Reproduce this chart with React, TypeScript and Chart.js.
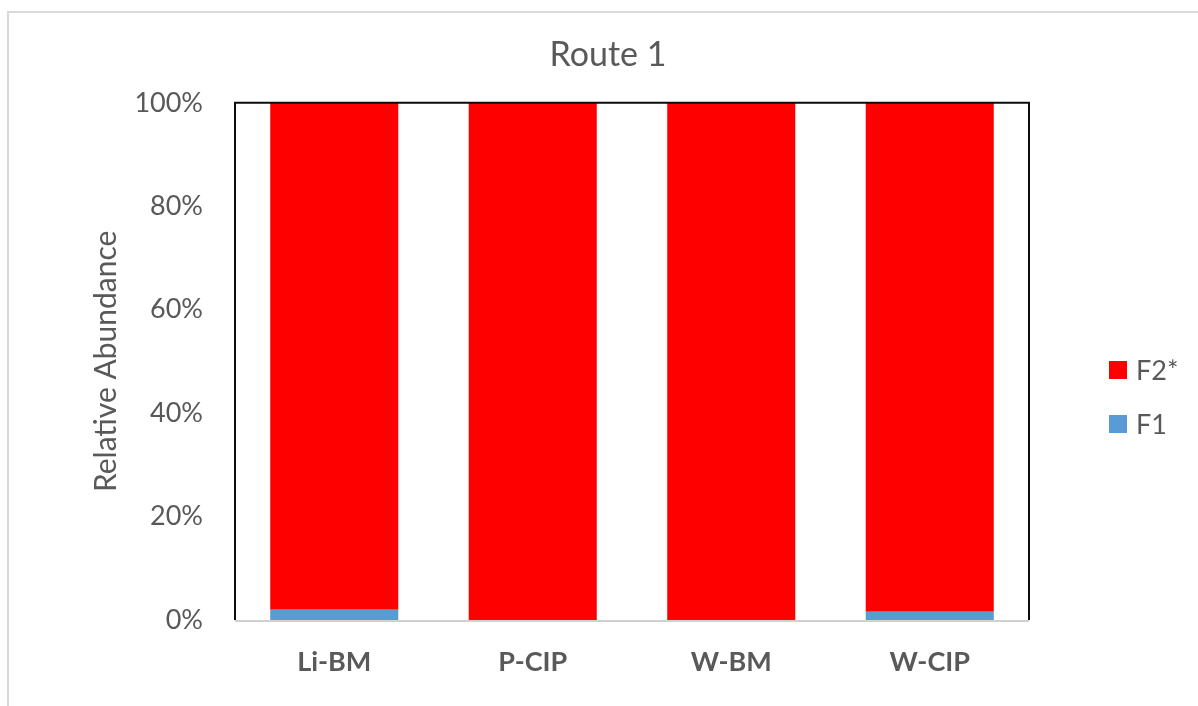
import React, { useEffect, useRef } from 'react';
import { Chart, registerables } from 'chart.js';

Chart.register(...registerables);

const chartTitle = 'Route 1';
const categories = ['Li-BM', 'P-CIP', 'W-BM', 'W-CIP'];
const f1Values = [2.0, 0, 0, 1.6];
const f2Values = [98.0, 100, 100, 98.4];
const seriesNames = ['F1', 'F2*'];
const seriesColors = ['#5B9BD5', '#FF0000'];
const yAxisTitle = 'Relative Abundance';
const yMin = 0;
const yMax = 100;
const yStep = 20;

const TEXT = '#595959';
const FONT = 'Lato, "Open Sans", sans-serif';

const decorPlugin = {
  id: 'decor',
  beforeDraw(chart: any) {
    const { ctx, width, height } = chart;
    ctx.save();
    ctx.fillStyle = '#ffffff';
    ctx.fillRect(0, 0, width, height);
    ctx.strokeStyle = '#d9d9d9';
    ctx.lineWidth = 2;
    ctx.strokeRect(8, 12, width + 20, height + 20);
    ctx.restore();
  },
  afterDatasetsDraw(chart: any) {
    const { ctx, chartArea: a } = chart;
    ctx.save();
    ctx.lineWidth = 2;
    ctx.strokeStyle = '#0d0d0d';
    ctx.beginPath();
    ctx.moveTo(a.left, a.bottom);
    ctx.lineTo(a.left, a.top);
    ctx.lineTo(a.right, a.top);
    ctx.lineTo(a.right, a.bottom);
    ctx.stroke();
    ctx.strokeStyle = '#d0d0d0';
    ctx.beginPath();
    ctx.moveTo(a.left, a.bottom + 1);
    ctx.lineTo(a.right, a.bottom + 1);
    ctx.stroke();
    ctx.restore();
  },
  afterDraw(chart: any) {
    const { ctx } = chart;
    const ds = chart.data.datasets.slice().reverse();
    ctx.save();
    ctx.font = '27px ' + FONT;
    ctx.textBaseline = 'middle';
    ctx.textAlign = 'left';
    ds.forEach((d: any, i: number) => {
      const cy = 370 + i * 54;
      ctx.fillStyle = d.backgroundColor;
      ctx.fillRect(1109, cy - 9, 18, 18);
      ctx.fillStyle = TEXT;
      ctx.fillText(d.label, 1136, cy + 1);
    });
    ctx.restore();
  },
};

export default function App() {
  const ref = useRef<HTMLCanvasElement>(null);
  useEffect(() => {
    if (!ref.current) return;
    const chart = new Chart(ref.current, {
      type: 'bar',
      data: {
        labels: categories,
        datasets: [
          { label: seriesNames[0], data: f1Values, backgroundColor: seriesColors[0], borderWidth: 0 },
          { label: seriesNames[1], data: f2Values, backgroundColor: seriesColors[1], borderWidth: 0 },
        ],
      },
      options: {
        responsive: false,
        animation: false,
        devicePixelRatio: 1,
        layout: { padding: { left: 18, right: 0, top: 0, bottom: 0 } },
        datasets: { bar: { categoryPercentage: 1, barPercentage: 0.645 } },
        plugins: {
          legend: { display: false },
          tooltip: { enabled: false },
          title: {
            display: true,
            text: chartTitle,
            color: TEXT,
            font: { family: FONT, size: 34, weight: 'normal' },
            padding: { top: 35, bottom: 27 },
          },
        },
        scales: {
          x: {
            stacked: true,
            grid: { display: false, drawTicks: false },
            border: { display: false },
            ticks: { color: TEXT, font: { family: FONT, size: 27, weight: 'bold' }, padding: 26 },
            afterFit: (s: any) => { s.height = 86; },
          },
          y: {
            stacked: true,
            min: yMin,
            max: yMax,
            grid: { display: false, drawTicks: false },
            border: { display: false },
            ticks: {
              stepSize: yStep,
              color: TEXT,
              font: { family: FONT, size: 27 },
              padding: 32,
              callback: (v: any) => v + '%',
            },
            title: {
              display: true,
              text: yAxisTitle,
              color: TEXT,
              font: { family: FONT, size: 30 },
              padding: { top: 70, bottom: 0 },
            },
            afterFit: (s: any) => { s.width = 217; },
          },
          y2: {
            position: 'right',
            display: true,
            grid: { display: false, drawTicks: false },
            border: { display: false },
            ticks: { display: false },
            afterFit: (s: any) => { s.width = 169; },
          },
        },
      },
      plugins: [decorPlugin],
    } as any);
    return () => chart.destroy();
  }, []);
  return (
    <div style={{ position: 'fixed', left: 0, top: 0, width: 1198, height: 706, background: '#fff' }}>
      <canvas ref={ref} width={1198} height={706} style={{ display: 'block' }} />
    </div>
  );
}
